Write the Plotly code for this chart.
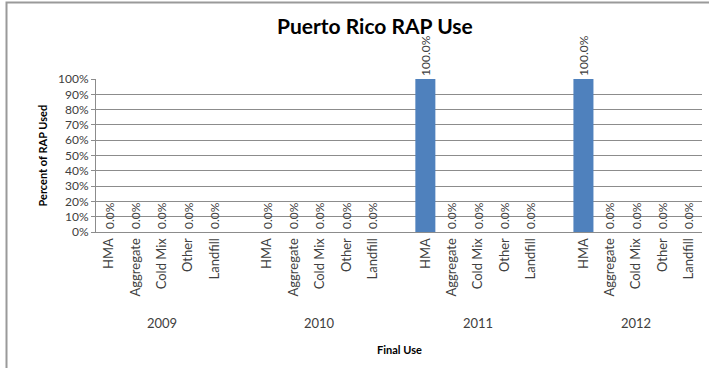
import plotly.graph_objects as go

# ---- data ----
years = ["2009", "2010", "2011", "2012"]
uses = ["HMA", "Aggregate", "Cold Mix", "Other", "Landfill"]
pct_2009 = [0.0, 0.0, 0.0, 0.0, 0.0]
pct_2010 = [0.0, 0.0, 0.0, 0.0, 0.0]
pct_2011 = [1.0, 0.0, 0.0, 0.0, 0.0]
pct_2012 = [1.0, 0.0, 0.0, 0.0, 0.0]
series = [pct_2009, pct_2010, pct_2011, pct_2012]

FONT = "Lato"
TXT = "#404040"
GRID = "#8c8c8c"

# positions: each year group of 5 slots plus one blank slot between groups
step = len(uses) + 1
xs, ys, labels, tickvals, ticktext = [], [], [], [], []
for g, vals in enumerate(series):
    for i, v in enumerate(vals):
        xs.append(g * step + i)
        ys.append(v)
        labels.append(f"{v*100:.1f}%")
        tickvals.append(g * step + i)
        ticktext.append(uses[i])

fig = go.Figure()
fig.add_trace(go.Bar(
    x=xs, y=ys, text=labels, textposition="outside", textangle=-90,
    constraintext="none", cliponaxis=False,
    textfont=dict(family=FONT, size=12, color=TXT),
    marker=dict(color="#4F81BD", line=dict(width=0)),
    hoverinfo="skip",
))

n_slots = step * len(years) - 1
L, R, T, B = 96, 7, 79, 136
W, H = 709, 368
pw, ph = W - L - R, H - T - B

annotations = []
for g, yr in enumerate(years):
    annotations.append(dict(
        x=g * step + (len(uses) - 1) / 2, y=0, xref="x", yref="paper",
        text=yr, showarrow=False, yshift=-91, yanchor="middle",
        font=dict(family=FONT, size=13, color=TXT)))
annotations.append(dict(
    x=0.5, y=0, xref="paper", yref="paper", text="<b>Final Use</b>",
    showarrow=False, yshift=-117, yanchor="middle",
    font=dict(family=FONT, size=11, color="#000")))
annotations.append(dict(
    x=0, y=0.5, xref="paper", yref="paper", text="<b>Percent of RAP Used</b>",
    showarrow=False, xshift=-54, xanchor="center", textangle=-90,
    font=dict(family=FONT, size=11, color="#000")))
annotations.append(dict(
    x=(375 - L) / pw, y=(H - B - 26) / ph, xref="paper", yref="paper",
    text="<b>Puerto Rico RAP Use</b>", showarrow=False,
    xanchor="center", yanchor="middle",
    font=dict(family=FONT, size=21, color="#000")))

fig.update_layout(
    width=W, height=H,
    margin=dict(l=L, r=R, t=T, b=B),
    paper_bgcolor="white", plot_bgcolor="white",
    showlegend=False, bargap=0.24,
    annotations=annotations,
    shapes=[dict(type="rect", xref="paper", yref="paper",
                 x0=(6.5 - L) / pw, x1=1.2, y0=-1.5, y1=(H - B - 2.5) / ph,
                 line=dict(color="#9a9a9a", width=2), layer="below")],
    xaxis=dict(range=[-0.5, n_slots - 0.5], tickmode="array",
               tickvals=tickvals, ticktext=ticktext, tickangle=-90,
               showline=True, linecolor=GRID, linewidth=1, ticks="",
               showgrid=False, zeroline=False,
               tickfont=dict(family=FONT, size=13, color=TXT)),
    yaxis=dict(range=[0, 1], dtick=0.1, tickformat=".0%",
               showgrid=True, gridcolor=GRID, gridwidth=1,
               showline=True, linecolor=GRID, linewidth=1,
               ticks="outside", ticklen=4, tickcolor=GRID,
               zeroline=False,
               tickfont=dict(family=FONT, size=12, color=TXT)),
)

fig.write_html("out.html",
               config={"displayModeBar": False},
               post_script="document.body.style.margin='0';document.body.style.overflow='hidden';")
